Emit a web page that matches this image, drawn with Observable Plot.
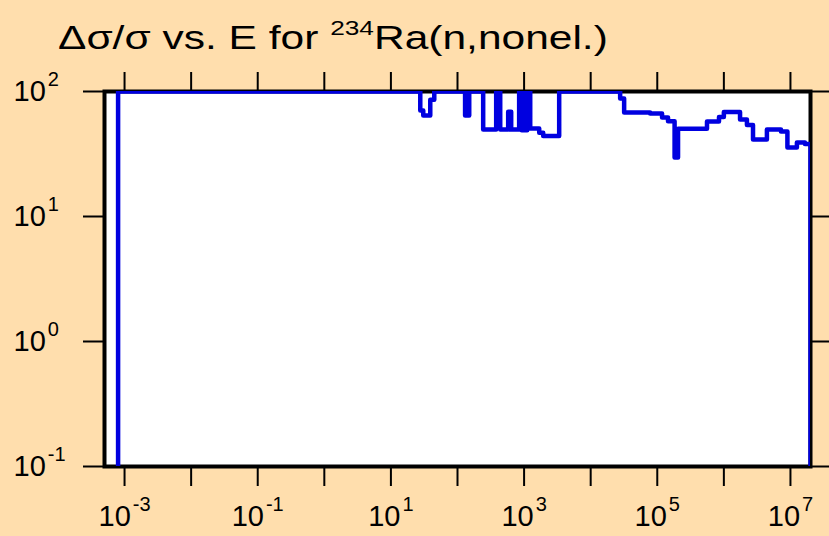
<!DOCTYPE html>
<html>
<head>
<meta charset="utf-8">
<script src="https://cdn.jsdelivr.net/npm/d3@7"></script>
<script src="https://cdn.jsdelivr.net/npm/@observablehq/plot@0.6"></script>
<style>
  html, body { margin: 0; padding: 0; background: #FFDEAD; }
  #wrap { position: relative; width: 829px; height: 536px; overflow: hidden; }
  #title { position: absolute; left: 58px; top: 19px; font-family: "Liberation Sans", Arial, sans-serif; font-size: 34px; line-height: 36px; color: #000; white-space: nowrap; transform: scaleX(1.25); transform-origin: 0 0; }
  #title .sup { font-size: 21px; position: relative; top: -14px; }
</style>
</head>
<body>
<div id="wrap">
  <div id="title">Δσ/σ vs. E for <span class="sup">234</span>Ra(n,nonel.)</div>
</div>
<script>
// Step-function edges (eV) and relative uncertainty (%) after each edge
const energy = [8e-4, 8e-4, 27.6, 30.6, 39, 44.8, 130, 150, 243, 381, 438, 577, 640, 843, 920, 969, 1057, 1114, 1236, 1687, 1936, 3365,
  27.7e3, 31.8e3, 78e3, 118e3, 145e3, 182e3, 205e3, 558e3, 845e3, 1.0e6, 1.75e6, 2.22e6, 2.74e6, 4.43e6, 7.2e6, 9.0e6, 12.5e6, 16.5e6, 2e7];
const relErr = [0.01, 100, 70.5, 64.3, 86, 100, 64.3, 100, 49.6, 100, 49.6, 69, 49.6, 100, 49, 100, 49, 100, 50.5, 46.7, 44.1, 100,
  88, 68, 66.7, 62, 57.8, 29.6, 50.3, 57.5, 62.5, 68.6, 59.7, 54, 41.3, 49.6, 47.8, 35.6, 39, 38, 0.01];

const xTicksAll = [1e-3, 1e-2, 1e-1, 1e0, 1e1, 1e2, 1e3, 1e4, 1e5, 1e6, 1e7];
const xTickLabels = [1e-3, 1e-1, 1e1, 1e3, 1e5, 1e7];
const yTicks = [0.1, 1, 10, 100];

const data = energy.map((e, i) => ({E: e, v: relErr[i]}));
const fmt = d => "10^" + String(Math.round(Math.log10(d)));

const svg = Plot.plot({
  width: 829,
  height: 536,
  marginLeft: 104,
  marginRight: 19,
  marginTop: 91,
  marginBottom: 70,
  style: {background: "#FFDEAD", fontFamily: "'Liberation Sans', Arial, sans-serif", overflow: "visible"},
  x: {type: "log", domain: [5e-4, 2e7]},
  y: {type: "log", domain: [0.1, 100]},
  marks: [
    Plot.frame({fill: "white"}),
    Plot.axisX({anchor: "bottom", ticks: xTicksAll, tickSize: 20, strokeWidth: 2, tickFormat: () => "", label: null}),
    Plot.axisX({anchor: "top", ticks: xTicksAll, tickSize: 20, strokeWidth: 2, tickFormat: () => "", label: null}),
    Plot.axisX({anchor: "bottom", ticks: xTickLabels, tickSize: 0, tickPadding: 39, fontSize: 29, fill: "black", tickFormat: fmt, label: null}),
    Plot.axisY({anchor: "left", ticks: yTicks, tickSize: 21, strokeWidth: 2, tickPadding: 70, textAnchor: "start", fontSize: 29, fill: "black", tickFormat: fmt, label: null}),
    Plot.axisY({anchor: "right", ticks: yTicks, tickSize: 19, strokeWidth: 2, tickFormat: () => "", label: null}),
    Plot.frame({stroke: "black", strokeWidth: 4}),
    Plot.line(data, {x: "E", y: "v", curve: "step-after", stroke: "#0000e0", strokeWidth: 4.5, clip: true})
  ]
});

d3.select(svg).selectAll("text").each(function() {
  const t = this.textContent;
  if (t.indexOf("^") < 0) return;
  const [base, exp] = t.split("^");
  const s = d3.select(this);
  s.text(base);
  s.append("tspan").attr("dy", -15).attr("dx", 2).attr("font-size", 20).text(exp);
});

document.getElementById("wrap").prepend(svg);
</script>
</body>
</html>
